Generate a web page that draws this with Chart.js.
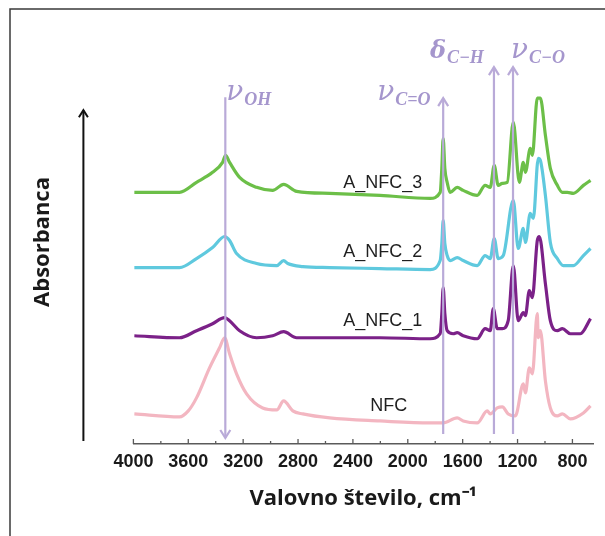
<!DOCTYPE html>
<html>
<head>
<meta charset="utf-8">
<script src="https://cdn.jsdelivr.net/npm/chart.js@4.4.1/dist/chart.umd.min.js"></script>
<style>
html, body { margin: 0; padding: 0; background: #fff; }
</style>
</head>
<body>
<canvas id="ftirChart" width="605" height="536"></canvas>
<script>
// FTIR spektri (valovno stevilo v cm-1, absorbanca z zamikom)
var seriesNames = ["NFC", "A_NFC_1", "A_NFC_2", "A_NFC_3"];

var nfcWn  = [3993, 3664, 3600, 3540, 3445, 3372, 3335, 3299, 3248, 3175, 3058, 2955, 2905, 2838, 2765, 2569, 2203, 1837, 1742, 1640, 1596, 1494, 1421, 1399, 1348, 1311, 1268, 1216, 1158, 1143, 1114, 1092, 1056, 1049, 1034, 997, 961, 910, 873, 815, 720, 668];
var nfcAbs = [0.30, 0.27, 0.33, 0.46, 0.76, 0.96, 1.06, 0.90, 0.70, 0.50, 0.36, 0.34, 0.43, 0.33, 0.30, 0.26, 0.23, 0.21, 0.21, 0.26, 0.23, 0.21, 0.33, 0.30, 0.36, 0.37, 0.30, 0.28, 0.60, 0.51, 0.76, 0.70, 1.30, 1.06, 1.13, 0.63, 0.36, 0.28, 0.30, 0.25, 0.31, 0.38];

var nfc1Wn  = [3993, 3664, 3540, 3423, 3335, 3299, 3226, 3102, 2985, 2905, 2810, 2569, 2203, 1837, 1764, 1752, 1742, 1730, 1713, 1669, 1640, 1596, 1494, 1436, 1399, 1377, 1348, 1311, 1268, 1231, 1195, 1158, 1143, 1114, 1092, 1056, 1041, 997, 961, 910, 873, 815, 742, 668];
var nfc1Abs = [1.08, 1.06, 1.13, 1.20, 1.26, 1.23, 1.13, 1.06, 1.08, 1.12, 1.06, 1.06, 1.06, 1.05, 1.10, 1.30, 1.56, 1.30, 1.13, 1.10, 1.11, 1.08, 1.05, 1.15, 1.13, 1.35, 1.15, 1.15, 1.23, 1.78, 1.23, 1.31, 1.28, 1.53, 1.46, 2.03, 2.07, 1.60, 1.23, 1.13, 1.15, 1.10, 1.10, 1.25];

var nfc2Wn  = [3993, 3664, 3540, 3423, 3335, 3299, 3248, 3102, 2955, 2905, 2875, 2765, 2569, 2203, 1837, 1764, 1752, 1742, 1730, 1713, 1691, 1640, 1596, 1494, 1436, 1399, 1370, 1341, 1304, 1231, 1195, 1158, 1143, 1107, 1085, 1049, 1034, 997, 961, 910, 866, 793, 720, 668];
var nfc2Abs = [1.76, 1.76, 1.85, 1.96, 2.07, 2.03, 1.90, 1.80, 1.78, 1.83, 1.80, 1.77, 1.76, 1.75, 1.74, 1.83, 2.00, 2.23, 2.00, 1.88, 1.83, 1.86, 1.83, 1.78, 1.88, 1.85, 2.05, 1.85, 1.88, 2.43, 1.95, 2.15, 2.01, 2.30, 2.25, 2.85, 2.83, 2.48, 2.01, 1.85, 1.78, 1.78, 1.88, 1.95];

var nfc3Wn  = [3993, 3664, 3540, 3423, 3350, 3328, 3299, 3226, 3102, 2985, 2905, 2810, 2569, 2203, 1837, 1764, 1752, 1742, 1730, 1713, 1691, 1640, 1596, 1494, 1436, 1399, 1370, 1341, 1311, 1275, 1231, 1187, 1158, 1143, 1107, 1092, 1056, 1034, 997, 961, 910, 873, 837, 793, 720, 668];
var nfc3Abs = [2.51, 2.51, 2.61, 2.71, 2.81, 2.88, 2.81, 2.66, 2.56, 2.53, 2.59, 2.52, 2.50, 2.48, 2.45, 2.51, 2.75, 3.05, 2.75, 2.61, 2.51, 2.56, 2.53, 2.48, 2.58, 2.56, 2.78, 2.58, 2.60, 2.61, 3.21, 2.61, 2.81, 2.71, 2.95, 2.88, 3.45, 3.45, 3.08, 2.75, 2.58, 2.51, 2.51, 2.50, 2.58, 2.63];

var seriesColors = ["#f3b6c1", "#7b2188", "#5fc9de", "#6cbf48"];

// tick labels on the x axis
var xTickLabels = [4000, 3600, 3200, 2800, 2400, 2000, 1600, 1200, 800];

// oznake trakov: valovno stevilo, vrh crte, simbol, indeks
var bandWn     = [3330, 1742, 1372, 1233];
var bandTop    = [3.46, 3.45, 3.76, 3.76];
var bandSymbol = ["ν", "ν", "δ", "ν"];
var bandSub    = ["OH", "C=O", "C−H", "C−O"];

// imena krivulj ob spektrih
var nameWn  = [2138, 2182, 2182, 2182];
var nameAbs = [0.38, 1.23, 1.91, 2.60];

function toPoints(wn, abs) {
    return wn.map(function (w, i) { return { x: w, y: abs[i] }; });
}

var seriesData = [toPoints(nfcWn, nfcAbs), toPoints(nfc1Wn, nfc1Abs), toPoints(nfc2Wn, nfc2Abs), toPoints(nfc3Wn, nfc3Abs)];

function chevron(ctx, x, y, dir, w, h) {
    ctx.beginPath();
    ctx.moveTo(x - w, y + dir * h);
    ctx.lineTo(x, y);
    ctx.lineTo(x + w, y + dir * h);
    ctx.stroke();
}

var decorPlugin = {
    id: 'decor',
    beforeDraw: function (chart) {
        var ctx = chart.ctx;
        ctx.save();
        ctx.fillStyle = '#fff';
        ctx.fillRect(0, 0, chart.width, chart.height);
        // okvir slike
        ctx.strokeStyle = '#3a3a3a';
        ctx.lineWidth = 1.5;
        ctx.beginPath();
        ctx.moveTo(10, chart.height);
        ctx.lineTo(10, 9);
        ctx.lineTo(chart.width, 9);
        ctx.stroke();
        ctx.restore();
    },
    afterDraw: function (chart) {
        var ctx = chart.ctx;
        var xs = chart.scales.x, ys = chart.scales.y;
        var area = chart.chartArea;
        ctx.save();

        // kratke crtice na osi x (navznoter)
        ctx.strokeStyle = '#5a5a5a';
        ctx.lineWidth = 1.3;
        xs.ticks.forEach(function (t) {
            var px = xs.getPixelForValue(t.value);
            var len = (t.value % 400 === 0) ? 5 : 3;
            ctx.beginPath();
            ctx.moveTo(px, area.bottom);
            ctx.lineTo(px, area.bottom - len);
            ctx.stroke();
        });

        // puscica absorbance
        var ax = area.left - 50;
        ctx.strokeStyle = '#111';
        ctx.lineWidth = 2;
        ctx.beginPath();
        ctx.moveTo(ax, ys.getPixelForValue(0.03));
        ctx.lineTo(ax, ys.getPixelForValue(3.33));
        ctx.stroke();
        chevron(ctx, ax, ys.getPixelForValue(3.33), 1, 4.5, 7);

        // navpicne crte trakov
        ctx.strokeStyle = '#b9aad8';
        ctx.lineWidth = 2.2;
        bandWn.forEach(function (w, i) {
            var px = xs.getPixelForValue(w);
            var top = ys.getPixelForValue(bandTop[i]);
            var bot = ys.getPixelForValue(i === 0 ? 0.06 : 0.10);
            ctx.beginPath();
            ctx.moveTo(px, bot);
            ctx.lineTo(px, top);
            ctx.stroke();
            if (i === 0) chevron(ctx, px, bot, -1, 5, 8);
            else chevron(ctx, px, top, 1, 5, 8);
        });

        // oznake trakov
        ctx.fillStyle = '#a596cd';
        ctx.textBaseline = 'alphabetic';
        ctx.textAlign = 'left';
        var lblDx = [1, -66, -64, -2];
        var lblBase = [3.43, 3.43, 3.85, 3.85];
        bandWn.forEach(function (w, i) {
            var px = xs.getPixelForValue(w) + lblDx[i];
            var py = ys.getPixelForValue(lblBase[i]);
            ctx.font = (bandSymbol[i] === 'δ' ? 'italic bold 24px' : 'italic 28px') + ' "DejaVu Serif"';
            ctx.fillText(bandSymbol[i], px, py);
            var sw = ctx.measureText(bandSymbol[i]).width;
            ctx.font = 'italic bold 18px "Liberation Serif"';
            ctx.fillText(bandSub[i], px + sw + 1, py + 5);
        });

        // imena vzorcev
        ctx.fillStyle = '#1f1f1f';
        ctx.textAlign = 'center';
        ctx.textBaseline = 'middle';
        ctx.font = '18px "Liberation Sans"';
        seriesNames.forEach(function (n, i) {
            ctx.fillText(n, xs.getPixelForValue(nameWn[i]), ys.getPixelForValue(nameAbs[i]));
        });
        ctx.restore();
    }
};

var ctxF = document.getElementById('ftirChart').getContext('2d');
window.ftirChart = new Chart(ctxF, {
    type: 'line',
    data: {
        datasets: seriesNames.map(function (n, i) {
            return {
                label: n,
                data: seriesData[i],
                borderColor: seriesColors[i],
                borderWidth: 3.2,
                pointRadius: 0,
                cubicInterpolationMode: 'monotone',
                fill: false
            };
        })
    },
    options: {
        responsive: false,
        animation: false,
        devicePixelRatio: 1,
        layout: { padding: { top: 40, right: 12, bottom: 0, left: 0 } },
        plugins: {
            legend: { display: false },
            tooltip: { enabled: false }
        },
        scales: {
            x: {
                type: 'linear',
                reverse: true,
                min: 650,
                max: 4000,
                border: { display: true, color: '#5a5a5a', width: 1.5 },
                grid: { display: false, drawTicks: false },
                ticks: {
                    stepSize: 200,
                    includeBounds: false,
                    autoSkip: false,
                    maxRotation: 0,
                    padding: 7,
                    color: '#1a1a1a',
                    font: { family: 'Liberation Sans', size: 18, weight: 'bold' },
                    callback: function (v) { return xTickLabels.indexOf(v) >= 0 ? String(v) : ''; }
                },
                title: {
                    display: true,
                    text: 'Valovno število, cm⁻¹',
                    color: '#1a1a1a',
                    font: { family: 'Open Sans', size: 22, weight: 'bold' },
                    padding: { top: 6, bottom: 24 }
                }
            },
            y: {
                min: 0,
                max: 4.03,
                border: { display: false },
                grid: { display: false, drawTicks: false },
                ticks: { display: false },
                title: {
                    display: true,
                    text: 'Absorbanca',
                    color: '#1a1a1a',
                    font: { family: 'Open Sans', size: 22, weight: 'bold' },
                    padding: { top: 30, bottom: 77 }
                }
            }
        }
    },
    plugins: [decorPlugin]
});
</script>
</body>
</html>
